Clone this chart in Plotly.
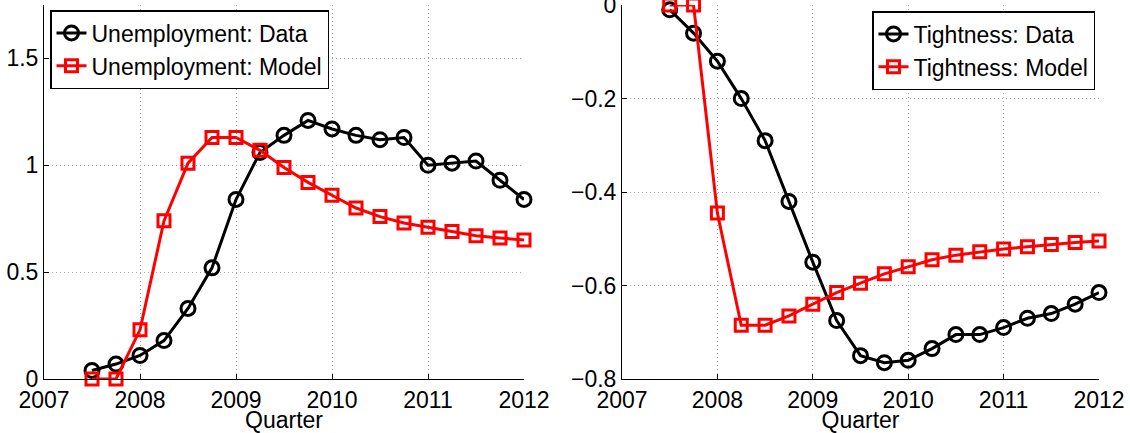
import plotly.graph_objects as go

quarters = [2007.5, 2007.75, 2008.0, 2008.25, 2008.5, 2008.75, 2009.0, 2009.25, 2009.5, 2009.75,
            2010.0, 2010.25, 2010.5, 2010.75, 2011.0, 2011.25, 2011.5, 2011.75, 2012.0]

unemp_data = [0.04, 0.07, 0.11, 0.18, 0.33, 0.52, 0.84, 1.06, 1.14, 1.21,
              1.17, 1.14, 1.12, 1.13, 1.00, 1.01, 1.02, 0.93, 0.84]
unemp_model = [0.0, 0.0, 0.23, 0.74, 1.01, 1.13, 1.13, 1.07, 0.99, 0.92,
               0.86, 0.80, 0.76, 0.73, 0.71, 0.69, 0.67, 0.66, 0.65]

tight_data = [-0.01, -0.06, -0.12, -0.20, -0.29, -0.42, -0.55, -0.675, -0.75, -0.765,
              -0.76, -0.735, -0.705, -0.705, -0.69, -0.67, -0.66, -0.64, -0.615]
tight_model = [0.0, 0.0, -0.445, -0.685, -0.685, -0.665, -0.64, -0.615, -0.595, -0.575,
               -0.56, -0.545, -0.535, -0.528, -0.522, -0.517, -0.512, -0.508, -0.505]

x_ticks = [2007, 2008, 2009, 2010, 2011, 2012]
left_yticks = [0, 0.5, 1, 1.5]
left_ytick_text = ["0", "0.5", "1", "1.5"]
right_yticks = [-0.8, -0.6, -0.4, -0.2, 0]
right_ytick_text = ["\u22120.8", "\u22120.6", "\u22120.4", "\u22120.2", "0"]

FONT = "Liberation Sans, Arial, Helvetica, sans-serif"

fig = go.Figure()

def add(x, y, name, color, symbol, size, xa, ya, leg):
    fig.add_trace(go.Scatter(
        x=x, y=y, name=name, mode="lines+markers",
        line=dict(color=color, width=3),
        marker=dict(symbol=symbol, size=size, color=color,
                    line=dict(color=color, width=3)),
        xaxis=xa, yaxis=ya, legend=leg, cliponaxis=False))

add(quarters, unemp_data, "Unemployment: Data", "black", "circle-open", 14, "x", "y", "legend")
add(quarters, unemp_model, "Unemployment: Model", "#ff0000", "square-open", 12, "x", "y", "legend")
add(quarters, tight_data, "Tightness: Data", "black", "circle-open", 14, "x2", "y2", "legend2")
add(quarters, tight_model, "Tightness: Model", "#ff0000", "square-open", 12, "x2", "y2", "legend2")

axis_common = dict(
    showline=True, linecolor="black", linewidth=1,
    ticks="inside", ticklen=5, tickcolor="black", tickwidth=1,
    showgrid=True, gridcolor="#a8a8a8", griddash="1px,3px", gridwidth=1,
    zeroline=False, tickfont=dict(family=FONT, size=23, color="black"),
    mirror=False, automargin=False, ticklabeloverflow="allow",
)

fig.update_layout(
    width=1130, height=433,
    margin=dict(l=0, r=0, t=5, b=54, autoexpand=False),
    paper_bgcolor="white", plot_bgcolor="white",
    font=dict(family=FONT, size=23, color="black"),
    xaxis=dict(domain=[44/1130, 524/1130], range=[2007, 2012], tickvals=x_ticks,
               title=dict(text="Quarter", standoff=0, font=dict(size=23)), **axis_common),
    yaxis=dict(range=[0, 1.75], tickvals=left_yticks, ticktext=left_ytick_text, **axis_common),
    xaxis2=dict(domain=[622/1130, 1099/1130], range=[2007, 2012], tickvals=x_ticks,
                title=dict(text="Quarter", standoff=0, font=dict(size=23)), anchor="y2", **axis_common),
    yaxis2=dict(range=[-0.8, 0.0002], tickvals=right_yticks, ticktext=right_ytick_text, anchor="x2", **axis_common),
    legend=dict(x=50/1130, y=(379-10)/374, xanchor="left", yanchor="top",
                bordercolor="black", borderwidth=1.5, bgcolor="white",
                font=dict(family=FONT, size=23), tracegroupgap=0,
                itemwidth=30),
    legend2=dict(x=1095/1130, y=(379-11)/374, xanchor="right", yanchor="top",
                 bordercolor="black", borderwidth=1.5, bgcolor="white",
                 font=dict(family=FONT, size=23), tracegroupgap=0,
                 itemwidth=30),
    showlegend=True,
)

fig.write_html("out.html", config={"displayModeBar": False},
               post_script="document.body.style.margin='0';")
